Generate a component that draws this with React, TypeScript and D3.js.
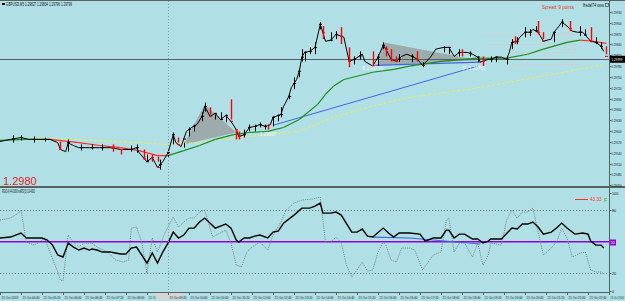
import { useEffect, useRef } from 'react'
import * as d3 from 'd3'

const W = 625
const H = 301
const AXIS_X = 609

// GBPUSD M5 closing path: [bar index, price]
const closes: [number, number][] = [
  [0, 1.29571], [4, 1.29577], [8, 1.29582], [11, 1.29577], [15, 1.29577], [19, 1.29577], [22, 1.29568],
  [23, 1.29549], [25, 1.29543], [26, 1.29568], [27, 1.29563], [30, 1.29554], [34, 1.29554], [38, 1.29554],
  [42, 1.29554], [46, 1.29549], [48, 1.29549], [50, 1.29549], [52, 1.29554], [53, 1.2954], [56, 1.29515],
  [58, 1.29527], [60, 1.29499], [62, 1.29515], [64, 1.2954], [66, 1.2959], [67, 1.29568], [69, 1.29557],
  [71, 1.29599], [73, 1.2961], [75, 1.29618], [77, 1.29641], [78, 1.29668], [80, 1.29641], [82, 1.29649],
  [84, 1.29632], [86, 1.29643], [88, 1.29627], [90, 1.29604], [91, 1.29585], [93, 1.2959], [95, 1.2961],
  [97, 1.29613], [99, 1.29618], [101, 1.29613], [103, 1.29618], [104, 1.29638], [107, 1.29646], [108, 1.29668],
  [110, 1.29696], [111, 1.29721], [113, 1.29743], [114, 1.29766], [115, 1.29805], [116, 1.29818], [118, 1.29821],
  [120, 1.29832], [122, 1.29896], [124, 1.29849], [126, 1.29852], [128, 1.29868], [130, 1.29863], [131, 1.2986],
  [133, 1.29793], [135, 1.29799], [138, 1.29813], [139, 1.29793], [142, 1.2978], [144, 1.29805], [146, 1.29838],
  [147, 1.29827], [149, 1.29799], [151, 1.29793], [153, 1.29807], [155, 1.29813], [157, 1.29807], [159, 1.29799],
  [161, 1.29782], [164, 1.29805], [166, 1.29827], [169, 1.29832], [171, 1.29832], [173, 1.29807], [175, 1.29818],
  [178, 1.29818], [180, 1.29813], [182, 1.29805], [183, 1.29791], [186, 1.29799], [187, 1.29799], [189, 1.29805],
  [191, 1.29805], [193, 1.29799], [194, 1.29818], [195, 1.29846], [197, 1.29849], [198, 1.2986], [200, 1.29874],
  [202, 1.29874], [203, 1.29882], [205, 1.29874], [207, 1.29849], [210, 1.29855], [211, 1.29874], [213, 1.29891],
  [214, 1.29902], [216, 1.29891], [218, 1.29877], [220, 1.29874], [222, 1.29874], [223, 1.29866], [225, 1.29849],
  [227, 1.29846], [229, 1.29835], [230, 1.29821],
]

// bar ranges [bar, high, low]
const upBars: [number, number, number][] = [
  [5, 1.29588, 1.29568], [8, 1.29588, 1.29574], [13, 1.29585, 1.29568], [17, 1.29582, 1.29571],
  [26, 1.29577, 1.29543], [31, 1.29563, 1.29546], [35, 1.29563, 1.29549], [39, 1.29563, 1.29546],
  [50, 1.2956, 1.29543], [52, 1.29563, 1.2954], [56, 1.29535, 1.29515], [61, 1.29521, 1.29493],
  [64, 1.29549, 1.29529], [66, 1.29596, 1.29563], [70, 1.29568, 1.29554], [72, 1.2961, 1.29585],
  [74, 1.29618, 1.29599], [77, 1.29652, 1.29627], [78, 1.29679, 1.29654], [82, 1.29646, 1.29632],
  [84, 1.29652, 1.29632], [86, 1.29646, 1.29624], [93, 1.29604, 1.29582], [95, 1.29618, 1.29599],
  [97, 1.29618, 1.29599], [99, 1.29624, 1.2961], [101, 1.29618, 1.29604], [104, 1.29641, 1.29613],
  [106, 1.29646, 1.29627], [107, 1.29666, 1.29638], [110, 1.29702, 1.29688], [112, 1.29749, 1.29716],
  [114, 1.29766, 1.29749], [115, 1.29827, 1.29793], [116, 1.29821, 1.29793], [118, 1.29832, 1.29813],
  [120, 1.29846, 1.29813], [122, 1.29902, 1.29882], [126, 1.29874, 1.29849], [128, 1.29877, 1.29855],
  [135, 1.29807, 1.29785], [137, 1.29821, 1.29799], [144, 1.29813, 1.2978], [146, 1.29846, 1.29827],
  [152, 1.29813, 1.29791], [157, 1.29813, 1.29791], [161, 1.29791, 1.29777], [169, 1.29835, 1.29818],
  [171, 1.29832, 1.29813], [175, 1.29827, 1.29807], [179, 1.29821, 1.29807], [182, 1.29807, 1.29791],
  [187, 1.29807, 1.29791], [189, 1.29807, 1.29791], [193, 1.29807, 1.29785], [195, 1.29855, 1.29827],
  [197, 1.2986, 1.29841], [200, 1.29888, 1.2986], [202, 1.29882, 1.29863], [204, 1.29891, 1.29874],
  [211, 1.29874, 1.29846], [214, 1.2991, 1.29888], [221, 1.29891, 1.29863], [223, 1.29882, 1.29866],
  [227, 1.2986, 1.29841], [229, 1.29846, 1.29827],
]

const downBars: [number, number, number][] = [
  [23, 1.29571, 1.29549], [43, 1.29563, 1.29543], [46, 1.29549, 1.29535], [55, 1.29549, 1.29521],
  [58, 1.29535, 1.29515], [60, 1.29529, 1.29515], [68, 1.29582, 1.29568], [80, 1.29666, 1.29646],
  [88, 1.29688, 1.29632], [90, 1.29604, 1.29577], [91, 1.29599, 1.29577], [102, 1.29618, 1.29604],
  [123, 1.29891, 1.29855], [130, 1.29888, 1.29841], [133, 1.29832, 1.29777], [142, 1.29821, 1.2978],
  [147, 1.29835, 1.29807], [149, 1.29827, 1.29793], [151, 1.29807, 1.29791], [159, 1.29821, 1.29793],
  [176, 1.29827, 1.29807], [184, 1.29807, 1.2978], [196, 1.29863, 1.29841], [205, 1.29905, 1.29868],
  [207, 1.29874, 1.29855], [217, 1.29905, 1.29877], [225, 1.29888, 1.29846], [231, 1.29835, 1.29813],
]

// moving average, red where it falls
const maLine: [number, number][] = [
  [0, 1.29574], [10, 1.29577], [19, 1.29577], [30, 1.29568], [38, 1.2956], [46, 1.29554], [53, 1.29546],
  [60, 1.29532], [64, 1.29532], [70, 1.29546], [76, 1.2956], [82, 1.29577], [89, 1.2959], [95, 1.29596],
  [102, 1.29599], [108, 1.2961], [114, 1.29632], [121, 1.29674], [124, 1.29702], [127, 1.29724],
  [131, 1.29743], [136, 1.29752], [142, 1.29763], [150, 1.29771], [156, 1.2978], [168, 1.29793],
  [182, 1.29802], [193, 1.29802], [201, 1.29813], [207, 1.29827], [216, 1.29846], [221, 1.29852],
  [226, 1.29849], [231, 1.29843],
]
const maFalling: [number, number][] = [[19, 64], [221, 231]]

const slowLine: [number, number][] = [
  [13, 1.29582], [38, 1.29574], [64, 1.29563], [76, 1.29568], [84, 1.29577], [99, 1.29588], [114, 1.29599],
  [127, 1.29638], [140, 1.29666], [156, 1.29693], [165, 1.29702], [183, 1.29721], [198, 1.29741],
  [213, 1.2976], [230, 1.29785],
]

const trendLine: [number, number][] = [[104, 1.29616], [182, 1.2978]]
const baseLine: [number, number][] = [[143, 1.29782], [183, 1.29791]]

const wedges: [number, number][][] = [
  [[70, 1.29563], [78, 1.29674], [90, 1.29596]],
  [[146, 1.29846], [182, 1.29796], [144, 1.29782]],
]

const fibStart = [183, 186, 193, 193]
const fibLevels = [1.29868, 1.29841, 1.29818, 1.29785]

const pivotNotes: [number, number, string][] = [
  [99, 1.29585, '1.29597'],
  [138, 1.29768, 'B 1.29790'],
  [176, 1.29768, '(F) 1.29782'],
]

const priceTicks = [
  1.2993, 1.299, 1.2987, 1.2984, 1.2981, 1.2978, 1.2975, 1.2972, 1.2969, 1.2966, 1.2963, 1.296,
  1.2957, 1.2954, 1.2951, 1.2948, 1.2945,
]
const lastPrice = 1.29799

// RSI(14) and fast oscillator: [bar, value]
const rsi: [number, number][] = [
  [0, 53.5], [4, 54.4], [8, 58.2], [10, 53.5], [14, 53.5], [16, 53.5], [18, 51.6], [20, 46.8], [22, 37.4],
  [24, 35.5], [26, 48.7], [28, 44.9], [30, 42.1], [32, 44], [34, 42.1], [35, 43], [37, 42.1], [39, 40.2],
  [42, 40.2], [44, 39.3], [46, 38.3], [48, 38.3], [50, 44], [52, 44.9], [54, 37.4], [56, 29.8], [58, 39.3],
  [60, 29.8], [62, 40.2], [64, 48.7], [66, 59.1], [68, 53.5], [70, 56.3], [72, 62.9], [74, 62.9], [76, 68.6],
  [78, 72.4], [82, 62.9], [86, 66.7], [88, 62.9], [90, 51.6], [91, 49.7], [93, 53.5], [95, 53.5], [97, 55.3],
  [99, 56.3], [102, 53.5], [104, 59.1], [106, 60.1], [108, 67.6], [112, 75.2], [115, 81.8], [118, 81.8],
  [120, 83.7], [122, 86.6], [123, 77.1], [126, 77.1], [128, 78.1], [130, 75.2], [134, 59.1], [136, 59.1],
  [138, 62], [140, 55.3], [142, 54.4], [146, 62.9], [148, 58.2], [150, 54.4], [152, 58.2], [156, 58.2],
  [160, 57.2], [162, 50.6], [165, 53.5], [168, 53.5], [170, 61], [171, 61], [173, 53.5], [175, 57.2],
  [177, 57.2], [180, 52.5], [182, 52.5], [184, 48.7], [186, 50.6], [187, 52.5], [191, 52.5], [195, 62.9],
  [197, 62], [199, 66.7], [201, 66.7], [203, 68.6], [205, 63.9], [207, 57.2], [210, 59.1], [212, 62.9],
  [214, 67.6], [216, 62.9], [219, 57.2], [222, 58.2], [224, 57.2], [225, 50.6], [227, 46.8], [229, 46.8],
  [230, 44],
]

const fastOsc: [number, number][] = [
  [0, 70.5], [4, 72.4], [7, 77.1], [8, 79.9], [10, 49.7], [13, 46.8], [15, 49.7], [17, 53.5], [19, 40.2],
  [22, 21.3], [23, 13.7], [24, 12.8], [26, 56.3], [28, 49.7], [30, 44.9], [32, 48.7], [35, 48.7], [37, 44.9],
  [41, 40.2], [44, 32.6], [47, 30.7], [49, 32.6], [50, 62.9], [52, 63.9], [54, 49.7], [56, 20.3], [58, 53.5],
  [60, 40.2], [63, 59.1], [66, 73.3], [68, 63.9], [70, 68.6], [72, 72.4], [74, 72.4], [76, 78.1], [78, 79.9],
  [81, 54.4], [86, 61], [88, 48.7], [90, 27.9], [92, 26], [94, 40.2], [96, 44.9], [99, 49.7], [102, 42.1],
  [104, 56.3], [107, 68.6], [109, 79.9], [112, 86.6], [115, 89.4], [119, 90.4], [122, 92.2], [124, 49.7],
  [126, 49.7], [128, 54.4], [130, 48.7], [132, 27.9], [134, 16.6], [136, 23.2], [138, 30.7], [140, 22.2],
  [142, 23.2], [144, 40.2], [146, 49.7], [147, 46.8], [149, 32.6], [151, 30.7], [153, 44], [156, 44],
  [158, 42.1], [161, 23.2], [165, 37.4], [168, 40.2], [170, 70.5], [171, 72.4], [173, 40.2], [175, 48.7],
  [177, 48.7], [180, 35.5], [182, 48.7], [184, 27.9], [186, 37.4], [187, 48.7], [191, 46.8], [193, 70.5],
  [195, 79.9], [197, 72.4], [199, 78.1], [201, 78.1], [203, 81.8], [205, 59.1], [207, 37.4], [210, 44],
  [212, 49.7], [214, 62.9], [216, 53.5], [218, 35.5], [221, 39.3], [223, 40.2], [225, 23.2], [227, 21.3],
  [229, 21.3], [230, 19.4],
]

const rsiTrend: [number, number][] = [[142, 54.4], [156, 53.5], [183, 47.8]]
const rsiLevels = [80, 20]
const rsiTicks = [100, 80, 50, 20, 0]

const timeLabels = [
  '21 Oct 2019', '21 Oct 04:40', '21 Oct 05:20', '21 Oct 06:00', '21 Oct 06:40', '21 Oct 07:20',
  '21 Oct 08:00', '21 Oct 08:40', '21 Oct 09:20', '21 Oct 10:00', '21 Oct 10:40', '21 Oct 11:20',
  '21 Oct 12:00', '21 Oct 12:40', '21 Oct 13:20', '21 Oct 14:00', '21 Oct 14:40', '21 Oct 15:20',
  '21 Oct 16:00', '21 Oct 16:40', '21 Oct 17:20', '21 Oct 18:00', '21 Oct 18:40', '21 Oct 19:20',
  '21 Oct 20:00', '21 Oct 20:40', '21 Oct 21:20', '21 Oct 22:00', '21 Oct 22:40', '21 Oct 23:20',
]
const barsPerLabel = 8
const markedLabel = 8

const FONT = 'Liberation Sans, Arial, sans-serif'

export default function App() {
  const ref = useRef<SVGSVGElement>(null)

  useEffect(() => {
    document.body.style.margin = '0'
    const svg = d3.select(ref.current)
    svg.selectAll('*').remove()

    const x = d3.scaleLinear().domain([0, 232]).range([0, AXIS_X])
    const y = d3.scaleLinear().domain([1.29445, 1.29955]).range([187, 3])
    const ry = d3.scaleLinear().domain([0, 100]).range([294.5, 188.9])

    const defs = svg.append('defs')
    defs.append('clipPath').attr('id', 'mainClip').append('rect').attr('x', 0).attr('y', 1).attr('width', AXIS_X).attr('height', 185)
    defs.append('clipPath').attr('id', 'subClip').append('rect').attr('x', 0).attr('y', 189).attr('width', AXIS_X).attr('height', 103)

    svg.append('rect').attr('width', W).attr('height', H).attr('fill', '#b0e0e6')

    const main = svg.append('g').attr('clip-path', 'url(#mainClip)')
    const sub = svg.append('g').attr('clip-path', 'url(#subClip)')
    const line = d3.line<[number, number]>().x(d => x(d[0])).y(d => y(d[1]))
    const rline = d3.line<[number, number]>().x(d => x(d[0])).y(d => ry(d[1]))

    // vertical separator
    svg.append('line')
      .attr('x1', x(markedLabel * barsPerLabel) + 0.5).attr('x2', x(markedLabel * barsPerLabel) + 0.5)
      .attr('y1', 1).attr('y2', 292)
      .attr('stroke', '#8a9c9e').attr('stroke-dasharray', '1,2')

    // wedges
    main.selectAll('path.wedge').data(wedges).enter().append('path')
      .attr('d', d => line(d) + 'Z')
      .attr('fill', '#9a9e9e').attr('opacity', 0.8)

    // fibo levels
    fibLevels.forEach((lv, i) => {
      main.append('line')
        .attr('x1', x(fibStart[i])).attr('x2', x(220))
        .attr('y1', Math.round(y(lv)) + 0.5).attr('y2', Math.round(y(lv)) + 0.5)
        .attr('stroke', '#c8d2d2').attr('stroke-width', 1)
      main.append('text')
        .attr('x', x(220) - 1).attr('y', y(lv) - 1.5)
        .attr('text-anchor', 'end')
        .attr('font-family', FONT).attr('font-size', 4.5).attr('fill', '#c8d2d2')
        .text(lv.toFixed(5))
    })

    // bid line
    main.append('line')
      .attr('x1', 0).attr('x2', AXIS_X)
      .attr('y1', Math.round(y(lastPrice)) + 0.5).attr('y2', Math.round(y(lastPrice)) + 0.5)
      .attr('stroke', '#566262')

    // slow average
    main.append('path').attr('d', line(slowLine))
      .attr('fill', 'none').attr('stroke', '#ecec58').attr('stroke-width', 1).attr('stroke-dasharray', '3,2')

    main.append('path').attr('d', line(trendLine)).attr('fill', 'none').attr('stroke', '#4466dd').attr('stroke-width', 1)
    main.append('path').attr('d', line(baseLine)).attr('fill', 'none').attr('stroke', '#4466dd').attr('stroke-width', 1.2)

    // moving average
    const falling = (b: number) => maFalling.some(([a, z]) => b >= a && b <= z)
    d3.pairs(maLine).forEach(([a, b]) => {
      main.append('path').attr('d', line([a, b]))
        .attr('fill', 'none')
        .attr('stroke', falling((a[0] + b[0]) / 2) ? '#ff2a2a' : '#1c8c1c')
        .attr('stroke-width', 1.2)
    })

    // close path
    main.append('path').attr('d', line(closes)).attr('fill', 'none').attr('stroke', '#000').attr('stroke-width', 1)

    const closeAt = d3.scaleLinear().domain(closes.map(d => d[0])).range(closes.map(d => d[1]))

    const drawBars = (data: [number, number, number][], color: string, w: number) => {
      const g = main.append('g')
      data.forEach(([b, hi, lo]) => {
        const bx = Math.round(x(b)) + 0.5
        g.append('line').attr('x1', bx).attr('x2', bx).attr('y1', y(hi)).attr('y2', y(lo))
          .attr('stroke', color).attr('stroke-width', w)
        g.append('line').attr('x1', bx - 1.5).attr('x2', bx + 1.5).attr('y1', y(closeAt(b))).attr('y2', y(closeAt(b)))
          .attr('stroke', color).attr('stroke-width', 1)
      })
    }
    drawBars(upBars, '#000', 1)
    drawBars(downBars, '#ff0000', 1.4)

    pivotNotes.forEach(([b, p, t]) => {
      main.append('text').attr('x', x(b)).attr('y', y(p))
        .attr('font-family', FONT).attr('font-size', 4.5).attr('fill', '#f4f8f8').text(t)
    })

    // headers
    svg.append('rect').attr('x', 2).attr('y', 3).attr('width', 3).attr('height', 2).attr('fill', '#000')
    svg.append('text').attr('x', 6).attr('y', 6)
      .attr('font-family', FONT).attr('font-size', 4.6).attr('fill', '#111')
      .attr('textLength', 66).attr('lengthAdjust', 'spacingAndGlyphs')
      .text('GBPUSD,M5  1.29827 1.29834 1.29796 1.29799')
    svg.append('text').attr('x', 542).attr('y', 8.5)
      .attr('font-family', FONT).attr('font-size', 6).attr('fill', '#e83030')
      .attr('textLength', 32).attr('lengthAdjust', 'spacingAndGlyphs')
      .text('Spread: 9 points')
    svg.append('text').attr('x', 583).attr('y', 7)
      .attr('font-family', FONT).attr('font-size', 4.5).attr('fill', '#111')
      .attr('textLength', 21).attr('lengthAdjust', 'spacingAndGlyphs')
      .text('lhsdaf74 ssss')
    svg.append('rect').attr('x', 605.5).attr('y', 3.5).attr('width', 3).attr('height', 3)
      .attr('fill', 'none').attr('stroke', '#333').attr('stroke-width', 0.6)
    svg.append('text').attr('x', 3).attr('y', 185)
      .attr('font-family', FONT).attr('font-size', 11).attr('fill', '#e82020')
      .text(lastPrice.toFixed(4))

    // oscillator window
    rsiLevels.forEach(lv => {
      sub.append('line').attr('x1', 0).attr('x2', AXIS_X)
        .attr('y1', Math.round(ry(lv)) + 0.5).attr('y2', Math.round(ry(lv)) + 0.5)
        .attr('stroke', '#6a7676').attr('stroke-dasharray', '1,2')
    })
    sub.append('line').attr('x1', 0).attr('x2', AXIS_X).attr('y1', ry(50)).attr('y2', ry(50))
      .attr('stroke', '#9400d3').attr('stroke-width', 1.6)
    sub.append('path').attr('d', rline(fastOsc)).attr('fill', 'none')
      .attr('stroke', '#6e7c7c').attr('stroke-width', 1).attr('stroke-dasharray', '1,1.2')
    sub.append('path').attr('d', rline(rsiTrend)).attr('fill', 'none').attr('stroke', '#4466dd').attr('stroke-width', 1.2)
    sub.append('path').attr('d', rline(rsi)).attr('fill', 'none').attr('stroke', '#000').attr('stroke-width', 1.4)

    svg.append('text').attr('x', 2).attr('y', 193)
      .attr('font-family', FONT).attr('font-size', 4.6).attr('fill', '#111')
      .attr('textLength', 33).attr('lengthAdjust', 'spacingAndGlyphs')
      .text(`RSI(14) ${rsi[rsi.length - 1][1].toFixed(4)} ssRSI(3) ${fastOsc[fastOsc.length - 1][1].toFixed(4)}`)
    svg.append('line').attr('x1', 575).attr('x2', 588).attr('y1', 199.5).attr('y2', 199.5)
      .attr('stroke', '#ff3030').attr('stroke-width', 1)
    svg.append('text').attr('x', 590).attr('y', 201)
      .attr('font-family', FONT).attr('font-size', 4.6).attr('fill', '#ff3030').text('43.33')
    svg.append('text').attr('x', 604).attr('y', 202)
      .attr('font-family', FONT).attr('font-size', 5).attr('fill', '#22aa22').text('F')

    // frames
    const frame = '#566262'
    svg.append('line').attr('x1', 0).attr('x2', W).attr('y1', 0.5).attr('y2', 0.5).attr('stroke', frame)
    svg.append('rect').attr('x', 0).attr('y', 186).attr('width', W).attr('height', 2).attr('fill', frame)
    svg.append('line').attr('x1', 0).attr('x2', AXIS_X + 0.5).attr('y1', 292.5).attr('y2', 292.5).attr('stroke', frame)
    svg.append('line').attr('x1', AXIS_X + 0.5).attr('x2', AXIS_X + 0.5).attr('y1', 0).attr('y2', 293).attr('stroke', frame)

    // price axis
    const axisText = (g: d3.Selection<SVGGElement, unknown, null, undefined>) => g
      .attr('font-family', FONT).attr('font-size', 3.8).attr('fill', '#111')
    const pa = svg.append('g').call(axisText)
    priceTicks.forEach(p => {
      const py = Math.round(y(p)) + 0.5
      pa.append('line').attr('x1', AXIS_X).attr('x2', AXIS_X + 2.5).attr('y1', py).attr('y2', py).attr('stroke', frame)
      pa.append('text').attr('x', 611.5).attr('y', py + 1.4)
        .attr('textLength', 10).attr('lengthAdjust', 'spacingAndGlyphs').text(p.toFixed(5))
    })
    const ly = y(lastPrice)
    pa.append('rect').attr('x', 610).attr('y', ly - 3.5).attr('width', 15).attr('height', 7).attr('fill', '#000')
    pa.append('text').attr('x', 611.5).attr('y', ly + 1.4).attr('fill', '#fff')
      .attr('textLength', 11).attr('lengthAdjust', 'spacingAndGlyphs').text(lastPrice.toFixed(5))

    const oa = svg.append('g').call(axisText)
    rsiTicks.forEach(v => {
      const vy = Math.min(Math.max(Math.round(ry(v)) + 0.5, 193.5), 291.5)
      oa.append('line').attr('x1', AXIS_X).attr('x2', AXIS_X + 2.5).attr('y1', vy).attr('y2', vy).attr('stroke', frame)
      if (v === 50) {
        oa.append('rect').attr('x', 610).attr('y', vy - 3).attr('width', 6).attr('height', 6).attr('fill', '#9400d3')
        oa.append('text').attr('x', 610.8).attr('y', vy + 1.4).attr('fill', '#fff').attr('font-size', 3.6).text(v)
      } else {
        oa.append('text').attr('x', 612).attr('y', vy + 1.4).text(v)
      }
    })

    // time axis
    const ta = svg.append('g').call(axisText)
    timeLabels.forEach((t, k) => {
      const tx = Math.round(x(k * barsPerLabel)) + 0.5
      if (k === markedLabel) {
        ta.append('rect').attr('x', tx - 13).attr('y', 293).attr('width', 27).attr('height', 7).attr('fill', '#d2d6d6')
      }
      ta.append('line').attr('x1', tx).attr('x2', tx).attr('y1', 292.5).attr('y2', 295).attr('stroke', frame)
      ta.append('text').attr('x', tx + 1).attr('y', 299)
        .attr('textLength', Math.min(17, W - tx - 2)).attr('lengthAdjust', 'spacingAndGlyphs').text(t)
    })
  }, [])

  return <svg ref={ref} width={W} height={H} style={{ display: 'block' }} />
}
